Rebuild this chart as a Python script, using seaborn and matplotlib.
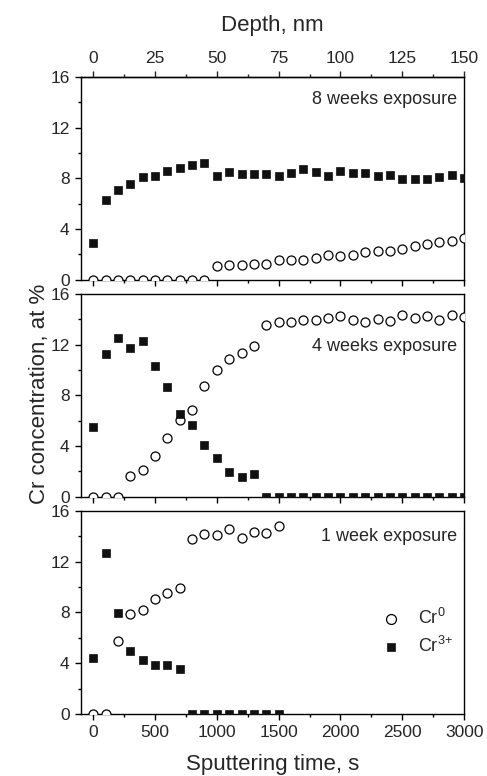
import seaborn as sns
import matplotlib.pyplot as plt
from matplotlib.ticker import MultipleLocator
import pandas as pd
import numpy as np

# Sputtering time points (s), 100 s steps
time = list(range(0, 3100, 100))

# 8 weeks exposure
cr0_8w = [0, 0, 0, 0, 0, 0, 0, 0, 0, 0,
          1.05, 1.16, 1.16, 1.26, 1.26, 1.53, 1.53, 1.58, 1.71, 1.97,
          1.84, 1.92, 2.2, 2.29, 2.29, 2.45, 2.63, 2.82, 2.97, 3.05, 3.29]
cr3_8w = [2.92, 6.32, 7.08, 7.58, 8.1, 8.18, 8.6, 8.79, 9.08, 9.18,
          8.2, 8.5, 8.37, 8.32, 8.37, 8.18, 8.42, 8.76, 8.53, 8.18,
          8.55, 8.42, 8.45, 8.18, 8.29, 7.95, 7.95, 7.95, 8.08, 8.24, 8.05]

# 4 weeks exposure
cr0_4w = [0, 0, 0, 1.66, 2.1, 3.23, 4.6, 6.02, 6.86, 8.7,
          9.98, 10.85, 11.35, 11.93, 13.58, 13.82, 13.79, 13.95, 13.95, 14.08,
          14.27, 13.98, 13.77, 14.0, 13.85, 14.32, 14.08, 14.29, 13.95, 14.37, 14.19]
cr3_4w = [5.52, 11.25, 12.5, 11.74, 12.27, 10.35, 8.64, 6.52, 5.65, 4.1,
          3.1, 1.97, 1.6, 1.81] + [0] * 17

# 1 week exposure (measured up to 1500 s)
time_1w = list(range(0, 1600, 100))
cr0_1w = [0, 0, 5.74, 7.88, 8.23, 9.05, 9.5, 9.92,
          13.81, 14.18, 14.13, 14.6, 13.89, 14.31, 14.23, 14.79]
cr3_1w = [4.39, 12.67, 7.99, 4.97, 4.29, 3.86, 3.86, 3.57,
          0, 0, 0, 0, 0, 0, 0, 0]

panels = [
    ('8 weeks exposure', time, cr0_8w, cr3_8w, 0.887),
    ('4 weeks exposure', time, cr0_4w, cr3_4w, 0.739),
    ('1 week exposure', time_1w, cr0_1w, cr3_1w, 0.876),
]

sns.set_style('ticks')
plt.rcParams['font.family'] = ['Liberation Sans', 'DejaVu Sans']
plt.rcParams['mathtext.fontset'] = 'custom'
plt.rcParams['mathtext.rm'] = 'Liberation Sans'
plt.rcParams['mathtext.it'] = 'Liberation Sans'
plt.rcParams['axes.linewidth'] = 1.0

fig, axes = plt.subplots(3, 1, sharex=True, figsize=(4.87, 7.76), dpi=100)
fig.subplots_adjust(left=0.166, right=0.953, top=0.901, bottom=0.080, hspace=0.07)

for ax, (title, t, c0, c3, ty) in zip(axes, panels):
    df = pd.DataFrame({'t': t, 'Cr0': c0, 'Cr3': c3})
    sns.scatterplot(data=df, x='t', y='Cr0', ax=ax, marker='o', s=42,
                    facecolor='white', edgecolor='black', linewidth=0.9,
                    label=r'Cr$^{0}$', zorder=3)
    sns.scatterplot(data=df, x='t', y='Cr3', ax=ax, marker='s', s=34,
                    color='#111111', edgecolor='#111111', linewidth=0.5,
                    label=r'Cr$^{3{+}}$', zorder=3)
    ax.set_xlim(-100, 3000)
    ax.set_ylim(0, 16)
    ax.set_yticks([0, 4, 8, 12, 16])
    ax.yaxis.set_minor_locator(MultipleLocator(2))
    ax.xaxis.set_minor_locator(MultipleLocator(250))
    ax.set_xticks(np.arange(0, 3001, 500))
    ax.tick_params(which='major', length=4.5, width=1, labelsize=12.5, color='black')
    ax.tick_params(which='minor', length=2.5, width=1, color='black')
    ax.set_xlabel('')
    ax.set_ylabel('')
    for sp in ax.spines.values():
        sp.set_visible(True)
        sp.set_color('black')
    ax.text(0.981, ty, title, transform=ax.transAxes, ha='right', va='center',
            fontsize=13)
    if ax is not axes[2]:
        ax.get_legend().remove()

leg = axes[2].legend(loc='center left', bbox_to_anchor=(0.72, 0.405),
                     frameon=False, fontsize=13, handletextpad=0.5,
                     labelspacing=0.45, markerscale=1.1)

axes[2].set_xticklabels([str(v) for v in range(0, 3001, 500)])
axes[2].set_xlabel('Sputtering time, s', fontsize=16, labelpad=10)

top = axes[0].secondary_xaxis('top', functions=(lambda x: x / 20, lambda d: d * 20))
top.set_xticks(np.arange(0, 151, 25))
top.xaxis.set_minor_locator(MultipleLocator(12.5))
top.tick_params(which='major', length=4.5, width=1, labelsize=12.5)
top.tick_params(which='minor', length=2.5, width=1)
top.set_xlabel('Depth, nm', fontsize=16, labelpad=14)

fig.text(0.082, 0.492, 'Cr concentration, at %', rotation=90,
         ha='center', va='center', fontsize=16)

plt.savefig('out.png', dpi=100)
plt.close()
